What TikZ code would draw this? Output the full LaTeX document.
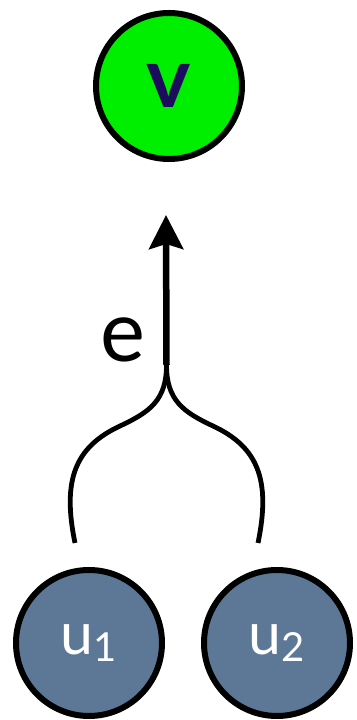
\documentclass[tikz,border=0pt]{standalone}
\usepackage{fontspec}
\setmainfont{Lato}
\usetikzlibrary{arrows.meta}
\definecolor{vgreen}{HTML}{00EE00}
\definecolor{vtext}{HTML}{1B0C5E}
\definecolor{ublue}{HTML}{5C7896}
\tikzset{
  vertex/.style={circle, draw=black, line width=6pt, minimum size=146pt, inner sep=0pt},
  topvertex/.style={vertex, fill=vgreen, text=vtext, font=\fontsize{84}{84}\selectfont\bfseries},
  botvertex/.style={vertex, fill=ublue, text=white, font=\fontsize{59}{59}\selectfont},
  branch/.style={line width=4.8pt},
  edgearrow/.style={line width=6.5pt, -{Stealth[length=34pt,width=34pt,inset=5pt]}},
  lbl/.style={font=\fontsize{85}{85}\selectfont}
}
\newcommand{\sublab}[1]{\raisebox{-7pt}{\fontsize{40}{40}\selectfont #1}}
\begin{document}
\begin{tikzpicture}[x=1pt,y=1pt]
\useasboundingbox (0,0) rectangle (356,720);
\node[topvertex] (v) at (169,634) {v};
\node[botvertex] (u1) at (89,77) {u\sublab{1}};
\node[botvertex] (u2) at (277,77) {u\sublab{2}};
\coordinate (J) at (166.5,355);
\coordinate (T) at (166,505);
\coordinate (L) at (75,177);
\coordinate (R) at (258,177);
\draw[branch] (J) .. controls (166.5,320) and (150,308) .. (120,294)
  .. controls (75,273) and (62,240) .. (L);
\draw[branch] (J) .. controls (166.5,320) and (183,308) .. (213,294)
  .. controls (258,273) and (271,240) .. (R);
\draw[edgearrow] (J) -- (T);
\node[lbl] (e) at (123,380) {e};
\end{tikzpicture}
\end{document}
